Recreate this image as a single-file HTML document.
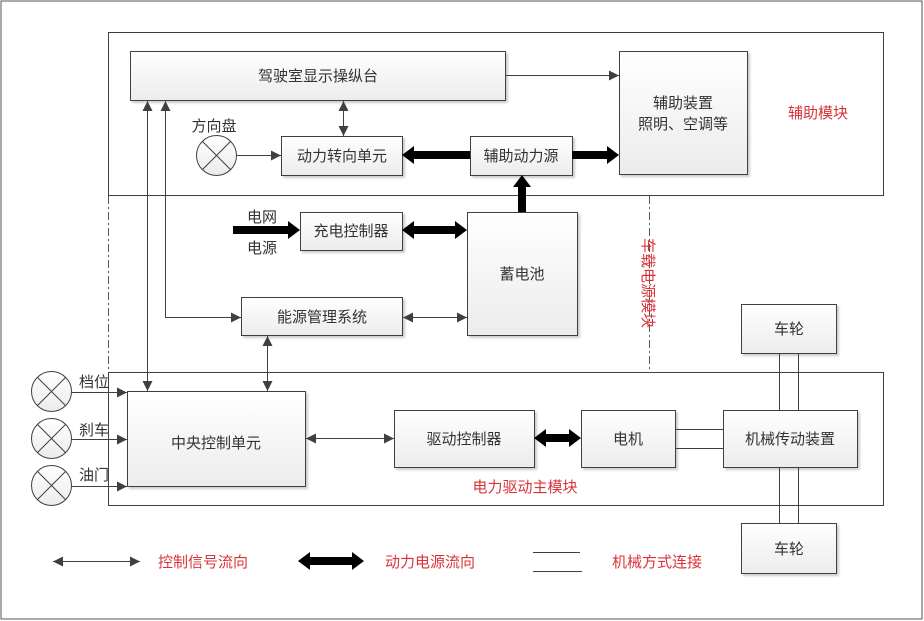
<!DOCTYPE html>
<html><head><meta charset="utf-8"><style>
html,body{margin:0;padding:0;background:#fff}
svg{display:block}
text{font-family:"Liberation Sans","Noto Sans CJK SC",sans-serif;font-size:15px;fill:#333}
.r{fill:#d9333a}
</style></head><body>
<svg width="924" height="621" viewBox="0 0 924 621" xmlns="http://www.w3.org/2000/svg">
<defs>
<linearGradient id="g" x1="0" y1="0" x2="0" y2="1"><stop offset="0" stop-color="#ffffff"/><stop offset="1" stop-color="#ececec"/></linearGradient>
<marker id="a" viewBox="0 0 10 10" refX="10" refY="5" markerWidth="13" markerHeight="10" markerUnits="userSpaceOnUse" orient="auto-start-reverse"><path d="M0,0L10,5L0,10z" fill="#404040"/></marker>
</defs>
<rect x="1" y="1" width="921" height="618" fill="#fff" stroke="#555" stroke-width="1"/>
<rect x="108.5" y="32.5" width="775" height="163" fill="none" stroke="#404040"/>
<rect x="108.5" y="372.5" width="775" height="133" fill="none" stroke="#404040"/>
<line x1="108.5" y1="196" x2="108.5" y2="372" stroke="#555" stroke-dasharray="8,3,2,3"/>
<line x1="649.5" y1="196" x2="649.5" y2="372" stroke="#555" stroke-dasharray="8,3,2,3"/>
<g fill="url(#g)" stroke="#404040" style="filter:drop-shadow(2px 2px 1px #ccc)">
<rect x="130.5" y="51.5" width="375" height="49"/>
<rect x="619.5" y="51.5" width="128" height="123"/>
<rect x="281.5" y="136.5" width="121" height="39"/>
<rect x="470.5" y="136.5" width="102" height="39"/>
<rect x="300.5" y="212.5" width="102" height="38"/>
<rect x="467.5" y="212.5" width="110" height="123"/>
<rect x="241.5" y="297.5" width="161" height="38"/>
<rect x="127.5" y="391.5" width="178" height="95"/>
<rect x="394.5" y="410.5" width="140" height="57"/>
<rect x="581.5" y="410.5" width="94" height="57"/>
<rect x="723.5" y="410.5" width="134" height="57"/>
<rect x="741.5" y="304.5" width="95" height="49"/>
<rect x="741.5" y="523.5" width="95" height="50"/>
</g>
<g fill="url(#g)" stroke="#404040">
<circle cx="216.5" cy="155.5" r="20"/><circle cx="51.5" cy="391.5" r="20"/><circle cx="51.5" cy="438.5" r="20"/><circle cx="51.5" cy="485.5" r="20"/>
</g>
<g stroke="#404040">
<path d="M202.4,141.4L230.6,169.6M230.6,141.4L202.4,169.6"/>
<path d="M37.4,377.4L65.6,405.6M65.6,377.4L37.4,405.6"/>
<path d="M37.4,424.4L65.6,452.6M65.6,424.4L37.4,452.6"/>
<path d="M37.4,471.4L65.6,499.6M65.6,471.4L37.4,499.6"/>
</g>
<g stroke="#404040" fill="none">
<line x1="505" y1="75.5" x2="619" y2="75.5" marker-end="url(#a)"/>
<line x1="343.5" y1="101" x2="343.5" y2="136" marker-start="url(#a)" marker-end="url(#a)"/>
<line x1="147.5" y1="101" x2="147.5" y2="391" marker-start="url(#a)" marker-end="url(#a)"/>
<polyline points="165.5,101 165.5,317.5 241,317.5" marker-start="url(#a)" marker-end="url(#a)"/>
<line x1="267.5" y1="336" x2="267.5" y2="391" marker-start="url(#a)" marker-end="url(#a)"/>
<line x1="236.5" y1="155.5" x2="281" y2="155.5" marker-end="url(#a)"/>
<line x1="403" y1="317.5" x2="467" y2="317.5" marker-start="url(#a)" marker-end="url(#a)"/>
<line x1="71.5" y1="392.5" x2="127" y2="392.5" marker-end="url(#a)"/>
<line x1="71.5" y1="439.5" x2="127" y2="439.5" marker-end="url(#a)"/>
<line x1="71.5" y1="486.5" x2="127" y2="486.5" marker-end="url(#a)"/>
<line x1="306" y1="438.5" x2="394" y2="438.5" marker-start="url(#a)" marker-end="url(#a)"/>
<line x1="53" y1="561.5" x2="140" y2="561.5" marker-start="url(#a)" marker-end="url(#a)"/>
<path d="M676,429.5H723M676,448.5H723M779.5,354V410M798.5,354V410M779.5,468V523M798.5,468V523M533,552.5H580M533,571.5H582"/>
</g>
<g fill="#000">
<polygon points="402,155 414,146 414,151 470,151 470,159 414,159 414,164"/>
<polygon points="572,151 607,151 607,146 619,155 607,164 607,159 572,159"/>
<polygon points="518,212 518,187 513,187 522,175 531,187 526,187 526,212"/>
<polygon points="233,226 288,226 288,221 300,230 288,239 288,234 233,234"/>
<polygon points="402,230 414,221 414,226 455,226 455,221 467,230 455,239 455,234 414,234 414,239"/>
<polygon points="534,438 546,429 546,434 569,434 569,429 581,438 569,447 569,442 546,442 546,447"/>
<polygon points="298,561 310,552 310,557 352,557 352,552 364,561 352,570 352,565 310,565 310,570"/>
</g>
<g text-anchor="middle">
<text x="318" y="81">驾驶室显示操纵台</text>
<text x="683" y="108">辅助装置</text>
<text x="683" y="129">照明、空调等</text>
<text x="342" y="161">动力转向单元</text>
<text x="521" y="161">辅助动力源</text>
<text x="351" y="236">充电控制器</text>
<text x="522" y="279">蓄电池</text>
<text x="322" y="322">能源管理系统</text>
<text x="216" y="448">中央控制单元</text>
<text x="464" y="444">驱动控制器</text>
<text x="628" y="444">电机</text>
<text x="790" y="444">机械传动装置</text>
<text x="789" y="334">车轮</text>
<text x="789" y="554">车轮</text>
<text x="214" y="131">方向盘</text>
<text x="262" y="222">电网</text>
<text x="262" y="253">电源</text>
<text x="94" y="387">档位</text>
<text x="94" y="435">刹车</text>
<text x="94" y="480">油门</text>
<text class="r" x="818" y="118">辅助模块</text>
<text class="r" x="525" y="492">电力驱动主模块</text>
<text class="r" x="203" y="567">控制信号流向</text>
<text class="r" x="430" y="567">动力电源流向</text>
<text class="r" x="657" y="567">机械方式连接</text>
</g>
<text class="r" x="643" y="238" transform="rotate(90 643 238)">车载电源模块</text>
</svg>
</body></html>
